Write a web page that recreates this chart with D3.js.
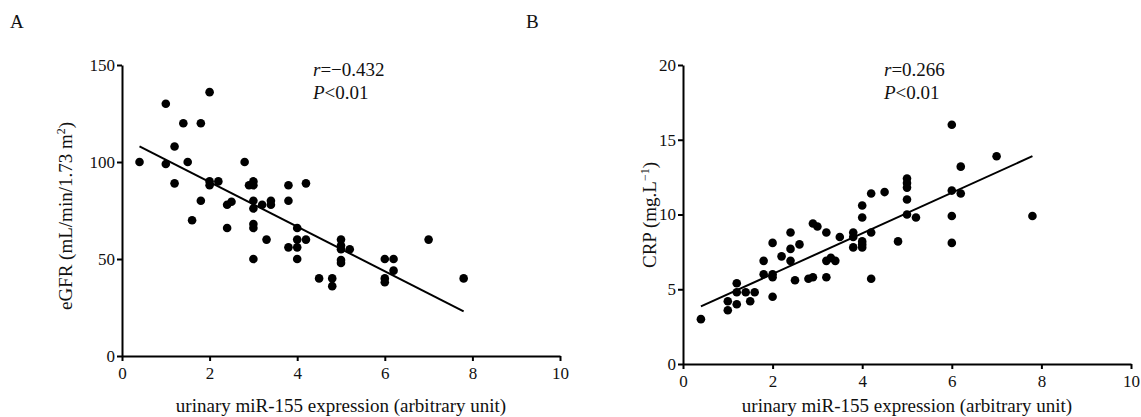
<!DOCTYPE html>
<html>
<head>
<meta charset="utf-8">
<script src="https://cdnjs.cloudflare.com/ajax/libs/d3/7.8.5/d3.min.js"></script>
<style>
  body { margin: 0; background: #fff; }
  svg { display: block; }
  text { font-family: "Liberation Serif", "DejaVu Serif", serif; fill: #111; }
  .axis path, .axis line { stroke: #000; stroke-width: 2px; }
  .axis text { font-size: 17px; }
</style>
</head>
<body>
<svg id="chart" width="1141" height="417"></svg>
<script>
// Panel A: urinary miR-155 vs eGFR
const xTicks = [0, 2, 4, 6, 8, 10];
const eGFRTicks = [0, 50, 100, 150];
const crpTicks = [0, 5, 10, 15, 20];

const miRA = [0.4, 1.0, 1.0, 1.2, 1.2, 1.4, 1.5, 1.8, 2.0, 2.0, 2.0, 2.2, 1.8, 1.6, 2.4, 2.5, 2.4, 2.8,
  2.9, 3.0, 3.0, 3.0, 3.0, 3.0, 3.0, 3.0, 3.2, 3.4, 3.4, 3.3, 3.8, 3.8, 3.8, 4.0, 4.0, 4.0, 4.0,
  4.2, 4.2, 4.5, 4.8, 4.8, 5.0, 5.0, 5.0, 5.0, 5.0, 5.2, 6.0, 6.2, 6.2, 6.0, 6.0, 7.0, 7.8];
const eGFR = [100, 130, 99, 108, 89, 120, 100, 120, 136, 90, 88, 90, 80, 70, 78, 79.5, 66, 100,
  88, 90, 88, 80, 76, 68, 66, 50, 78, 80, 78, 60, 88, 80, 56, 66, 60, 56, 50,
  89, 60, 40, 40, 36, 60, 57, 55, 49.5, 48, 55, 50, 50, 44, 40, 38, 60, 40];
const fitA = [[0.4, 108], [7.8, 23]];

// Panel B: urinary miR-155 vs CRP
const miRB = [0.4, 1.0, 1.0, 1.2, 1.2, 1.2, 1.4, 1.5, 1.6, 1.8, 1.8, 2.0, 2.0, 2.0, 2.0, 2.2, 2.4, 2.4,
  2.4, 2.5, 2.6, 2.8, 2.9, 3.0, 2.9, 3.2, 3.2, 3.2, 3.3, 3.4, 3.5, 3.8, 3.8, 3.8, 4.0, 4.0, 4.0,
  4.0, 4.0, 4.2, 4.2, 4.2, 4.5, 4.8, 5.0, 5.0, 5.0, 5.0, 5.0, 5.2, 6.0, 6.0, 6.0, 6.0, 6.2, 6.2, 7.0, 7.8];
const crp = [3.0, 4.2, 3.6, 5.4, 4.8, 4.0, 4.8, 4.2, 4.8, 6.9, 6.0, 8.1, 6.0, 5.8, 4.5, 7.2, 8.8, 7.7,
  6.9, 5.6, 8.0, 5.7, 9.4, 9.2, 5.8, 8.8, 6.9, 5.8, 7.1, 6.9, 8.5, 8.8, 8.5, 7.8, 10.6, 9.8, 8.2,
  8.0, 7.8, 11.4, 8.8, 5.7, 11.5, 8.2, 12.4, 12.1, 11.8, 11.0, 10.0, 9.8, 16.0, 11.6, 9.9, 8.1, 13.2, 11.4, 13.9, 9.9];
const fitB = [[0.4, 3.85], [7.8, 13.9]];

const svg = d3.select('#chart');

function drawPanel(opt) {
  const x = d3.scaleLinear().domain([0, 10]).range([opt.left, opt.right]);
  const y = d3.scaleLinear().domain([0, opt.yMax]).range([opt.bottom, 65]);

  svg.append('g')
    .attr('class', 'axis')
    .attr('transform', 'translate(0,' + opt.bottom + ')')
    .call(d3.axisBottom(x).tickValues(xTicks).tickSize(5).tickPadding(6).tickSizeOuter(0));

  svg.append('g')
    .attr('class', 'axis')
    .attr('transform', 'translate(' + opt.left + ',0)')
    .call(d3.axisLeft(y).tickValues(opt.yTicks).tickSize(5).tickPadding(2).tickSizeOuter(0));

  svg.append('g').selectAll('circle')
    .data(opt.xs.map((v, i) => [v, opt.ys[i]]))
    .enter()
    .append('circle')
    .attr('cx', d => x(d[0]))
    .attr('cy', d => y(d[1]))
    .attr('r', 4.3)
    .attr('fill', '#000');

  svg.append('path')
    .datum(opt.fit)
    .attr('fill', 'none')
    .attr('stroke', '#000')
    .attr('stroke-width', 2)
    .attr('d', d3.line().x(d => x(d[0])).y(d => y(d[1])));

  svg.append('text')
    .attr('x', (opt.left + opt.right) / 2)
    .attr('y', 412)
    .style('text-anchor', 'middle')
    .style('font-size', '19px')
    .text('urinary miR-155 expression (arbitrary unit)');

  const yl = svg.append('text')
    .attr('transform', 'translate(' + opt.yLabelX + ',' + opt.yLabelY + ') rotate(-90)')
    .style('text-anchor', 'middle')
    .style('font-size', '19px');
  yl.append('tspan').text(opt.yLabel[0]);
  yl.append('tspan').attr('dy', -7).style('font-size', '12px').text(opt.yLabel[1]);
  yl.append('tspan').attr('dy', 7).text(opt.yLabel[2]);

  const ann = svg.append('text')
    .attr('x', opt.annX)
    .attr('y', 76)
    .style('font-size', '19px');
  ann.append('tspan').style('font-style', 'italic').text('r');
  ann.append('tspan').text(opt.rText);
  const ann2 = svg.append('text')
    .attr('x', opt.annX)
    .attr('y', 99)
    .style('font-size', '19px');
  ann2.append('tspan').style('font-style', 'italic').text('P');
  ann2.append('tspan').text('<0.01');

  svg.append('text')
    .attr('x', opt.tagX)
    .attr('y', 28)
    .style('font-size', '19px')
    .text(opt.tag);
}

drawPanel({
  left: 122, right: 560, bottom: 356, yMax: 150, yTicks: eGFRTicks,
  xs: miRA, ys: eGFR, fit: fitA,
  yLabel: ['eGFR (mL/min/1.73 m', '2', ')'], yLabelX: 72, yLabelY: 216,
  annX: 313, rText: '=\u22120.432', tag: 'A', tagX: 10
});

drawPanel({
  left: 683, right: 1131, bottom: 364, yMax: 20, yTicks: crpTicks,
  xs: miRB, ys: crp, fit: fitB,
  yLabel: ['CRP (mg.L', '\u22121', ')'], yLabelX: 656, yLabelY: 215,
  annX: 884, rText: '=0.266', tag: 'B', tagX: 526
});
</script>
</body>
</html>
